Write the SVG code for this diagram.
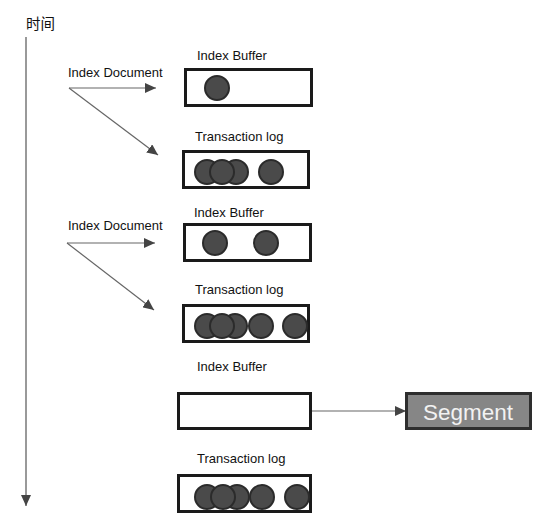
<svg xmlns="http://www.w3.org/2000/svg" width="554" height="526" viewBox="0 0 554 526">
<defs>
<style>
.lbl{font-family:"Liberation Sans",Arial,sans-serif;font-size:13px;fill:#111}
.box{fill:#fff;stroke:#1a1a1a;stroke-width:3}
.dot{fill:#4a4a4a;stroke:#2b2b2b;stroke-width:2}
.conn{stroke:#666;stroke-width:1.2;fill:none}
</style>
<marker id="ah" markerUnits="userSpaceOnUse" markerWidth="12" markerHeight="10" refX="11" refY="5" orient="auto">
<path d="M0,0 L11,5 L0,10 Z" fill="#444"/>
</marker>
</defs>
<rect width="554" height="526" fill="#fff"/>
<g id="timeline">
<text x="26" y="29" style="font-family:'Noto Sans CJK SC',sans-serif;font-size:14.5px;fill:#111">时间</text>
<line x1="26" y1="37" x2="26" y2="506" class="conn" style="stroke:#555" marker-end="url(#ah)"/>
</g>
<g id="connectors">
<line x1="69" y1="88" x2="156" y2="88" class="conn" marker-end="url(#ah)"/>
<line x1="69" y1="88" x2="158" y2="155" class="conn" marker-end="url(#ah)"/>
<line x1="67" y1="243" x2="155" y2="243" class="conn" marker-end="url(#ah)"/>
<line x1="67" y1="243" x2="154" y2="310" class="conn" marker-end="url(#ah)"/>
<line x1="312" y1="411" x2="406" y2="411" class="conn" marker-end="url(#ah)"/>
</g>
<g id="doc1"><text class="lbl" x="68" y="77">Index Document</text></g>
<g id="buffer1">
<text class="lbl" x="197" y="60">Index Buffer</text>
<rect class="box" x="185.5" y="69.5" width="126" height="36"/>
<circle class="dot" cx="217" cy="88" r="12"/>
</g>
<g id="log1">
<text class="lbl" x="195" y="141">Transaction log</text>
<rect class="box" x="183.5" y="151.5" width="125" height="36"/>
<circle class="dot" cx="207" cy="172" r="12"/>
<circle class="dot" cx="236" cy="172" r="12"/>
<circle class="dot" cx="222" cy="172" r="12"/>
<circle class="dot" cx="271" cy="172" r="12"/>
</g>
<g id="doc2"><text class="lbl" x="68" y="230">Index Document</text></g>
<g id="buffer2">
<text class="lbl" x="194" y="217">Index Buffer</text>
<rect class="box" x="184.5" y="224.5" width="126" height="36"/>
<circle class="dot" cx="215" cy="243" r="12"/>
<circle class="dot" cx="266" cy="243" r="12"/>
</g>
<g id="log2">
<text class="lbl" x="195" y="294">Transaction log</text>
<rect class="box" x="183.5" y="305.5" width="125" height="36"/>
<circle class="dot" cx="207" cy="326" r="12"/>
<circle class="dot" cx="235" cy="326" r="12"/>
<circle class="dot" cx="222" cy="326" r="12"/>
<circle class="dot" cx="261" cy="326" r="12"/>
<circle class="dot" cx="295" cy="326" r="12"/>
</g>
<g id="buffer3">
<text class="lbl" x="197" y="371">Index Buffer</text>
<rect class="box" x="178.5" y="393.5" width="132" height="35"/>
</g>
<g id="segment">
<rect x="406.5" y="393.5" width="124" height="35" fill="#868686" stroke="#2e2e2e" stroke-width="3"/>
<text x="468" y="420" text-anchor="middle" style="font-family:'Liberation Sans',Arial,sans-serif;font-size:22.5px;fill:#f2f2f2">Segment</text>
</g>
<g id="log3">
<text class="lbl" x="197" y="463">Transaction log</text>
<rect class="box" x="178.5" y="475.5" width="132" height="36"/>
<circle class="dot" cx="207" cy="497" r="12"/>
<circle class="dot" cx="237" cy="497" r="12"/>
<circle class="dot" cx="223" cy="497" r="12"/>
<circle class="dot" cx="262" cy="497" r="12"/>
<circle class="dot" cx="297" cy="497" r="12"/>
</g>
</svg>
